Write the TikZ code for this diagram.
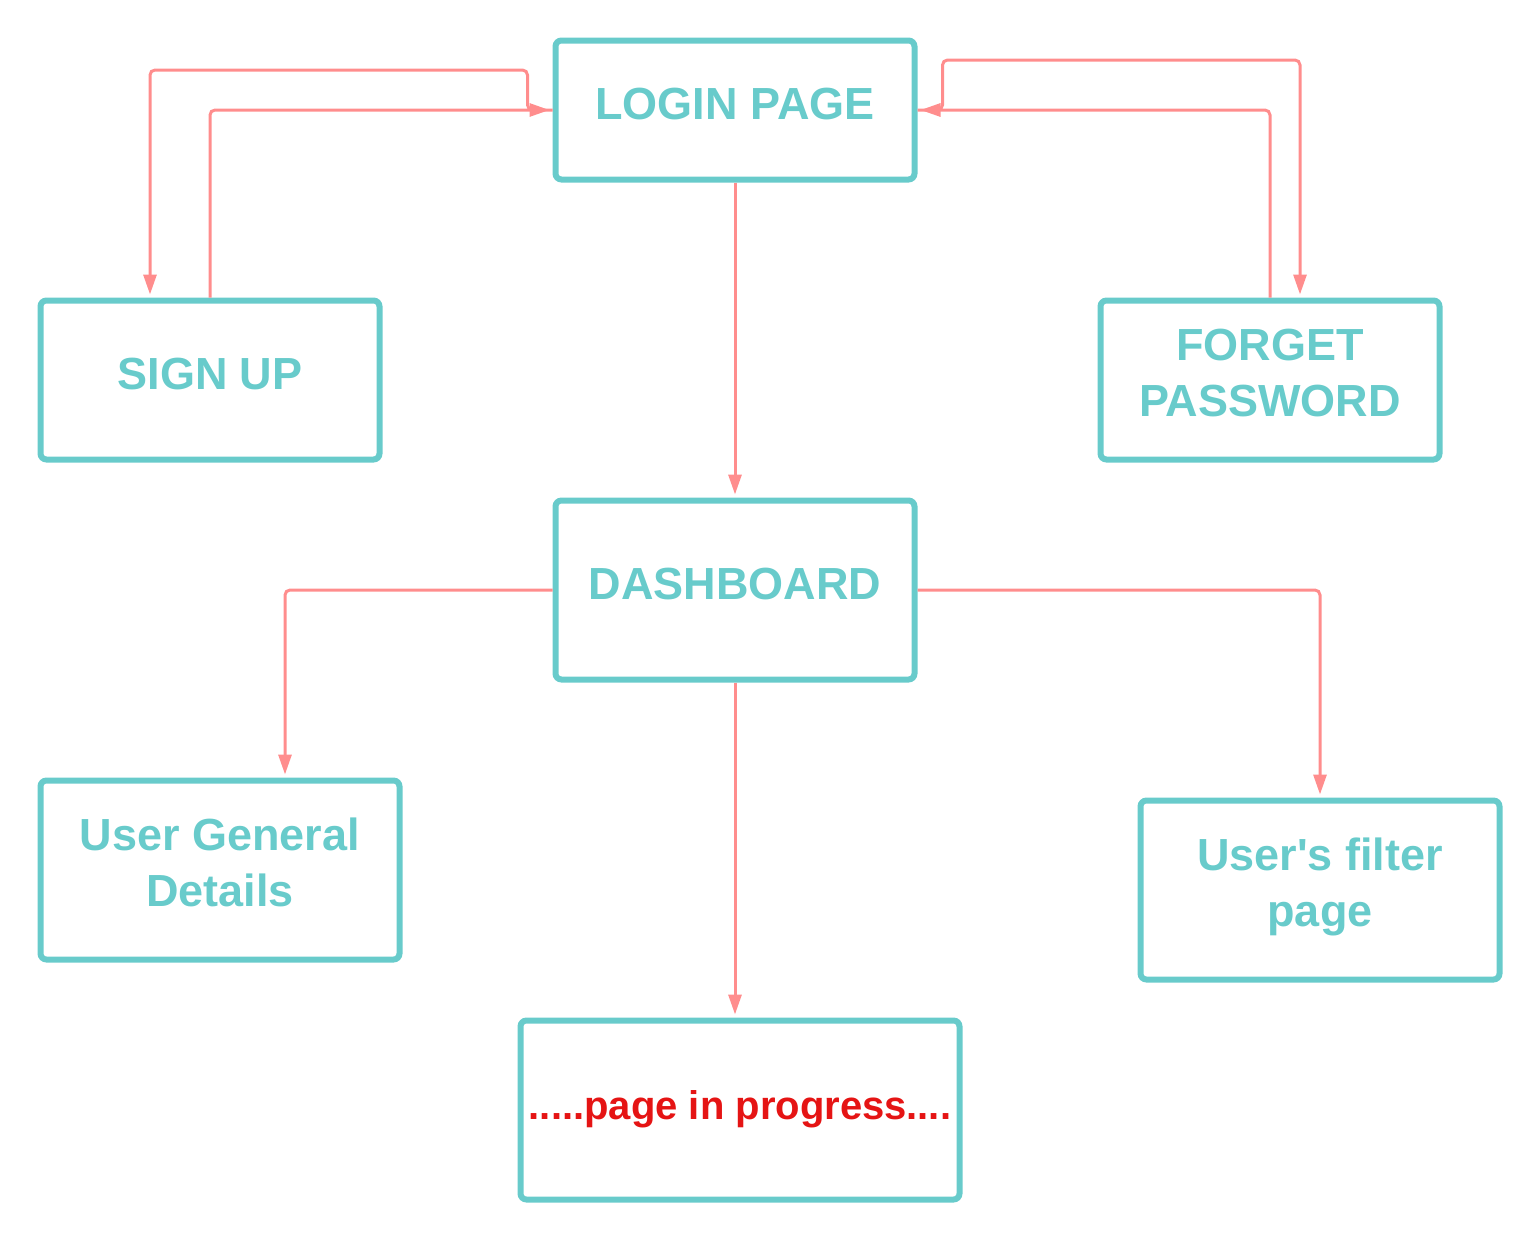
\documentclass[tikz,border=0pt]{standalone}
\usepackage{fontspec}
\setmainfont{Liberation Sans}
\usetikzlibrary{arrows.meta,positioning}
\definecolor{tealline}{HTML}{68CBCB}
\definecolor{salmon}{HTML}{FF8D8D}
\definecolor{alert}{HTML}{E51414}

\begin{document}
\begin{tikzpicture}[x=1pt,y=-1pt,
    every node/.style={font=\fontsize{45}{56}\selectfont\bfseries},
    page/.style={draw=tealline,line width=6pt,rounded corners=6pt,text=tealline,
      align=center,inner sep=0pt,
      execute at begin node={\rule{0pt}{33pt}},
      execute at end node={\rule[-15pt]{0pt}{15pt}}},
    link/.style={draw=salmon,line width=3pt,rounded corners=5pt,shorten >=3pt,
      -{Triangle[length=20pt,width=13pt]}}]
      \useasboundingbox (0,0) rectangle (1540,1240);
      \node[page,minimum width=359pt,minimum height=139pt] (login) at (735,110) {LOGIN PAGE};
      \node[page,minimum width=339pt,minimum height=159pt] (signup) at (210,380) {SIGN UP};
      \node[page,minimum width=339pt,minimum height=159pt] (forget) at (1270,380) {FORGET\\PASSWORD};
      \node[page,minimum width=359pt,minimum height=179pt] (dash) at (735,590) {DASHBOARD};
      \node[page,minimum width=359pt,minimum height=179pt] (general) at (220,870) {User General\\Details};
      \node[page,minimum width=359pt,minimum height=179pt] (filter) at (1320,890) {User\textquotesingle s filter\\page};
      \node[page,minimum width=439pt,minimum height=179pt,text=alert,
        font=\fontsize{40}{48}\selectfont\bfseries] (progress) at (740,1110) {.....page in progress....};
      % login <-> sign up
      \draw[link] (login.west) -- ++(-25,0) -- ++(0,-40) -| ([xshift=-60pt]signup.north);
      \draw[link] (signup.north) |- (login.west);
      % login <-> forget password
      \draw[link] (login.east) -- ++(25,0) -- ++(0,-50) -| ([xshift=30pt]forget.north);
      \draw[link] (forget.north) |- (login.east);
      \draw[link] (login) -- (dash);
      % dashboard children
      \draw[link] (dash.west) -| ([xshift=65pt]general.north);
      \draw[link] (dash.east) -| (filter.north);
      \draw[link] (dash.south) -- (dash.south |- progress.north);
    \end{tikzpicture}
\end{document}
